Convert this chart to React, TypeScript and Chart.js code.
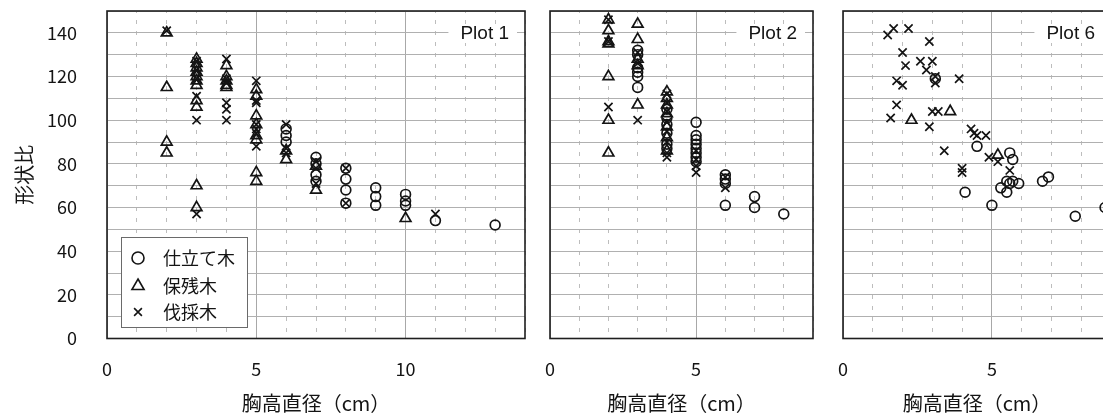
import React, { useEffect, useRef } from "react";
import { Chart, registerables } from "chart.js";

Chart.register(...registerables);

type Pt = [number, number];

// ---- labels ----
const seriesLabels = ["仕立て木", "保残木", "伐採木"];
const plotNames = ["Plot 1", "Plot 2", "Plot 6"];
const xAxisTitle = "胸高直径（cm）";
const yAxisTitle = "形状比";
const xMaxes = [14, 9, 9];
const yMax = 150;

// ---- Plot 1 ----
const p1Circle: Pt[] = [
  [6, 96], [6, 93], [6, 90],
  [7, 83], [7, 80], [7, 75], [7, 72],
  [8, 78], [8, 73], [8, 68], [8, 62],
  [9, 69], [9, 65], [9, 61],
  [10, 66], [10, 63], [10, 61],
  [11, 54], [13, 52],
];
const p1Triangle: Pt[] = [
  [2, 140], [2, 115], [2, 90], [2, 85],
  [3, 128], [3, 126], [3, 124], [3, 122], [3, 120], [3, 118], [3, 116], [3, 109], [3, 106], [3, 70], [3, 60],
  [4, 125], [4, 120], [4, 118], [4, 116], [4, 115],
  [5, 114], [5, 111], [5, 102], [5, 98], [5, 93], [5, 91], [5, 76], [5, 72],
  [6, 86], [6, 82],
  [7, 79], [7, 68],
  [10, 55],
];
const p1Cross: Pt[] = [
  [2, 141],
  [3, 127], [3, 123], [3, 119], [3, 111], [3, 100], [3, 57],
  [4, 128], [4, 119], [4, 117], [4, 108], [4, 105], [4, 100],
  [5, 118], [5, 109], [5, 108], [5, 98], [5, 96], [5, 94], [5, 88],
  [6, 98], [6, 87], [6, 85],
  [7, 81], [7, 78], [7, 71],
  [8, 78], [8, 62],
  [11, 57],
];

// ---- Plot 2 ----
const p2Circle: Pt[] = [
  [3, 132], [3, 130], [3, 124], [3, 122], [3, 120], [3, 115],
  [4, 105], [4, 101], [4, 98], [4, 94], [4, 89], [4, 87],
  [5, 99], [5, 93], [5, 91], [5, 89], [5, 87], [5, 85], [5, 83], [5, 81],
  [6, 75], [6, 73], [6, 71], [6, 61],
  [7, 65], [7, 60],
  [8, 57],
];
const p2Triangle: Pt[] = [
  [2, 146], [2, 141], [2, 136], [2, 135], [2, 120], [2, 100], [2, 85],
  [3, 144], [3, 137], [3, 128], [3, 125], [3, 107],
  [4, 113], [4, 110], [4, 107], [4, 103], [4, 97], [4, 92], [4, 86],
];
const p2Cross: Pt[] = [
  [2, 146], [2, 136], [2, 106],
  [3, 131], [3, 126], [3, 100],
  [4, 112], [4, 108], [4, 104], [4, 99], [4, 95], [4, 90], [4, 85], [4, 83],
  [5, 86], [5, 82], [5, 79], [5, 76],
  [6, 74], [6, 69],
];

// ---- Plot 6 ----
const p6Circle: Pt[] = [
  [3.1, 119], [4.5, 88], [4.1, 67], [5.0, 61], [5.6, 85], [5.7, 82],
  [5.3, 69], [5.5, 72], [5.5, 67], [5.6, 71], [5.7, 72], [5.9, 71],
  [6.7, 72], [6.9, 74], [7.8, 56], [8.8, 60],
];
const p6Triangle: Pt[] = [
  [2.3, 100], [3.6, 104], [5.2, 84],
];
const p6Cross: Pt[] = [
  [1.5, 139], [1.7, 142], [2.2, 142], [2.9, 136], [2.0, 131], [2.6, 127],
  [3.0, 127], [2.1, 125], [2.8, 123], [3.1, 120], [3.9, 119], [1.8, 118],
  [2.0, 116], [3.1, 117], [1.8, 107], [1.6, 101], [3.0, 104], [3.2, 104],
  [2.9, 97], [3.4, 86], [4.3, 96], [4.4, 94], [4.5, 93], [4.8, 93],
  [4.0, 78], [4.0, 76], [4.9, 83], [5.2, 81], [5.6, 77],
];

const panelData: Pt[][][] = [
  [p1Circle, p1Triangle, p1Cross],
  [p2Circle, p2Triangle, p2Cross],
  [p6Circle, p6Triangle, p6Cross],
];

const JP = '"Noto Sans CJK JP", "Noto Sans", sans-serif';
const INK = "#141414";

// canvas placement (layout only)
const canvasBoxes = [
  { left: 0, width: 540, padL: 0, padR: 15, yWidth: 107 },
  { left: 540, width: 290, padL: 10, padR: 17, yWidth: 0 },
  { left: 830, width: 300, padL: 13, padR: 19, yWidth: 0 },
];
const CANVAS_H = 413;

const pointStyles = ["circle", "triangle", "crossRot"];
const pointRadii = [4.9, 6.2, 5.8];

function drawSymbol(ctx: CanvasRenderingContext2D, style: string, x: number, y: number, r: number) {
  ctx.beginPath();
  if (style === "circle") {
    ctx.arc(x, y, r, 0, Math.PI * 2);
  } else if (style === "triangle") {
    const a = (Math.PI * 2) / 3;
    ctx.moveTo(x, y - r);
    ctx.lineTo(x + Math.sin(a) * r, y - Math.cos(a) * r);
    ctx.lineTo(x + Math.sin(2 * a) * r, y - Math.cos(2 * a) * r);
    ctx.closePath();
  } else {
    const o = Math.cos(Math.PI / 4) * r;
    ctx.moveTo(x - o, y - o);
    ctx.lineTo(x + o, y + o);
    ctx.moveTo(x + o, y - o);
    ctx.lineTo(x - o, y + o);
  }
  ctx.stroke();
}

const panelDecor = {
  id: "panelDecor",
  afterDatasetsDraw(chart: any, _args: any, opts: any) {
    const { ctx, chartArea: a } = chart;
    ctx.save();
    // plot name with white backing
    ctx.font = '19px "Liberation Sans", Arial, sans-serif';
    const w = ctx.measureText(opts.name).width;
    const tx = a.right - 16 - w;
    const ty = a.top + 23;
    ctx.fillStyle = "#fff";
    ctx.fillRect(tx - 12, ty - 9, w + 20, 18);
    ctx.fillStyle = INK;
    ctx.textBaseline = "middle";
    ctx.textAlign = "left";
    ctx.fillText(opts.name, tx, ty);

    // legend
    if (opts.legend) {
      const bx = a.left + 14;
      const bw = 126;
      const bh = 90;
      const by = a.bottom - 11.5 - bh;
      ctx.fillStyle = "#fff";
      ctx.fillRect(bx, by, bw, bh);
      ctx.strokeStyle = "#6a6a6a";
      ctx.lineWidth = 1;
      ctx.strokeRect(bx + 0.5, by + 0.5, bw, bh);
      const rows = [21, 49, 75];
      chart.data.datasets.forEach((ds: any, i: number) => {
        const yy = by + rows[i];
        ctx.strokeStyle = INK;
        ctx.lineWidth = 1.6;
        drawSymbol(ctx, ds.pointStyle, bx + 17, yy, i === 0 ? 6 : i === 1 ? 7 : 5.5);
        ctx.fillStyle = INK;
        ctx.font = `18px ${JP}`;
        ctx.textBaseline = "middle";
        ctx.fillText(ds.label, bx + 42, yy);
      });
    }

    // frame
    ctx.strokeStyle = "#1e1e1e";
    ctx.lineWidth = 1.6;
    ctx.strokeRect(a.left, a.top, a.right - a.left, a.bottom - a.top);
    ctx.restore();
  },
};

function makeConfig(p: number): any {
  const box = canvasBoxes[p];
  const first = p === 0;
  return {
    type: "scatter",
    data: {
      datasets: panelData[p].map((pts, i) => ({
        label: seriesLabels[i],
        data: pts.map(([x, y]) => ({ x, y })),
        pointStyle: pointStyles[i],
        pointRadius: pointRadii[i],
        pointHoverRadius: pointRadii[i],
        borderColor: INK,
        backgroundColor: "rgba(0,0,0,0)",
        pointBorderWidth: 1.7,
        borderWidth: 1.7,
        showLine: false,
      })),
    },
    options: {
      responsive: false,
      maintainAspectRatio: false,
      animation: false,
      devicePixelRatio: 1,
      events: [],
      layout: { padding: { left: box.padL, right: box.padR, top: 11, bottom: 0 } },
      plugins: {
        legend: { display: false },
        tooltip: { enabled: false },
        panelDecor: { name: plotNames[p], legend: first },
      },
      scales: {
        x: {
          type: "linear",
          min: 0,
          max: xMaxes[p],
          afterFit: (s: any) => {
            s.height = 74.5;
            s.paddingLeft = 0;
            s.paddingRight = 0;
          },
          ticks: {
            stepSize: 1,
            autoSkip: false,
            maxRotation: 0,
            padding: 20,
            color: INK,
            font: { family: JP, size: 18 },
            callback: (v: number) => (v % 5 === 0 ? String(v) : ""),
          },
          grid: {
            drawTicks: false,
            color: (c: any) => (c.tick && c.tick.value % 5 === 0 ? "#a8a8a8" : "#bdbdbd"),
            lineWidth: 1,
          },
          border: {
            display: false,
            dash: (c: any) => (c.tick && c.tick.value % 5 === 0 ? [] : [4, 7]),
            dashOffset: 2,
          },
          title: {
            display: true,
            text: xAxisTitle,
            color: INK,
            font: { family: JP, size: 20, lineHeight: 1 },
            padding: 0,
          },
        },
        y: {
          type: "linear",
          min: 0,
          max: yMax,
          afterFit: (s: any) => {
            s.width = box.yWidth;
            s.paddingTop = 0;
            s.paddingBottom = 0;
          },
          ticks: {
            display: first,
            stepSize: 10,
            autoSkip: false,
            padding: 30,
            color: INK,
            font: { family: JP, size: 18 },
            callback: (v: number) => (v % 20 === 0 ? String(v) : ""),
          },
          grid: { drawTicks: false, color: "#b0b0b0", lineWidth: 1 },
          border: { display: false },
          title: {
            display: first,
            text: yAxisTitle,
            color: INK,
            font: { family: JP, size: 20, lineHeight: 1.2 },
            padding: { top: 12, bottom: 0 },
          },
        },
      },
    },
    plugins: [panelDecor],
  };
}

function Panel({ index }: { index: number }) {
  const ref = useRef<HTMLCanvasElement | null>(null);
  useEffect(() => {
    if (!ref.current) return;
    const chart = new Chart(ref.current, makeConfig(index));
    return () => chart.destroy();
  }, [index]);
  const box = canvasBoxes[index];
  return (
    <canvas
      ref={ref}
      width={box.width}
      height={CANVAS_H}
      style={{ position: "absolute", left: box.left, top: 0, width: box.width, height: CANVAS_H }}
    />
  );
}

export default function App() {
  return (
    <div
      style={{
        position: "fixed",
        left: 0,
        top: 0,
        width: 1103,
        height: 413,
        overflow: "hidden",
        background: "#fff",
      }}
    >
      <Panel index={0} />
      <Panel index={1} />
      <Panel index={2} />
    </div>
  );
}
